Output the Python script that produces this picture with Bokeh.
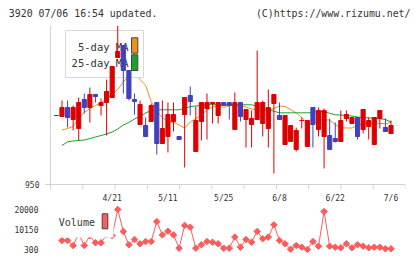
import math
from bokeh.plotting import figure
from bokeh.layouts import column
from bokeh.models import Range1d, FixedTicker, LinearAxis, Span, ColumnDataSource
from bokeh.core.properties import value
from bokeh.embed import file_html
from bokeh.resources import INLINE

NaN = float("nan")

# ---------------- data ----------------
opens = [1019, 1018, 1027, 1015, 1006, 1035, 1027, 1040, 1029, 1032,
         1037, 1077, 1089, 1064, 1035, 1010, 1009, 1013, 1032, 991,
         998, 1013, 998, 1020, 1039, 983, 1013, 1026, 1031, 1019,
         1032, 1032, 1005, 1032, 1015, 1010, 1015, 1011, 1006, 1031,
         1019, 990, 993, 985, 1014, 988, 1027, 1005, 998, 999,
         996, 993, 1016, 1011, 1017, 1005, 1008, 990, 1016, 1007,
         1001]
closes = [1019, 1027, 1017, 1027, 1032, 1027, 1040, 1038, 1032, 1043,
          1068, 1083, 1064, 1036, 1033, 1030, 998, 1029, 991, 1006,
          1020, 1020, 995, 1037, 1033, 1014, 1032, 1032, 1032, 1032,
          1029, 1029, 1032, 1018, 1025, 1016, 1032, 1032, 1027, 1040,
          1015, 1019, 1009, 1004, 1014, 1014, 1010, 1024, 1024, 985,
          993, 1014, 1020, 1017, 998, 1025, 1014, 1017, 1024, 1003,
          1009]
highs = [1019, 1034, 1034, 1029, 1037, 1041, 1047, 1040, 1036, 1055,
         1068, 1109, 1089, 1064, 1041, 1034, 1017, 1031, 1032, 1034,
         1032, 1032, 998, 1037, 1048, 1028, 1032, 1041, 1032, 1032,
         1032, 1032, 1042, 1032, 1025, 1024, 1084, 1034, 1045, 1040,
         1032, 1019, 1009, 1007, 1017, 1014, 1027, 1027, 1026, 1016,
         1012, 1024, 1024, 1017, 1017, 1025, 1017, 1017, 1024, 1016,
         1014]
lows = [1019, 1018, 1007, 1004, 994, 1021, 1012, 1032, 1019, 999,
        1037, 1077, 1041, 1034, 1020, 1010, 998, 1013, 980, 991,
        982, 1003, 995, 967, 1019, 983, 994, 995, 1011, 1011,
        1029, 1015, 1005, 1013, 987, 987, 1015, 998, 987, 961,
        1015, 990, 993, 983, 1006, 988, 987, 998, 966, 985,
        992, 993, 1013, 1011, 995, 1001, 995, 990, 1006, 1003,
        1001]
ma5 = [NaN, 1004.5, 1006, 1008, 1016.5, 1022, 1026, 1029, 1031.5, 1036,
       1040, 1045, 1052.5, 1059, 1061, 1055, 1049, 1033, 1023, 1017,
       1012.5, 1012.3, 1009.5, 1006.3, 1012.5, 1016, 1019.5, 1024.5, 1027.5, 1029,
       1027, 1029, 1029, 1029, 1027.3, 1025.7, 1024.5, 1024, 1024, 1026,
       1028.5, 1028, 1025, 1021.5, 1017, 1011.5, 1010, 1014.7, 1014.7, 1014.5,
       1010, 1007, 1006.5, 1006.5, 1009, 1011, 1011.3, 1011.3, 1011, 1010.7,
       1012.3]
ma25 = [NaN, 989, 992.7, 993.5, 994, 994.5, 996, 997.5, 999, 1000.5,
        1002.5, 1005.5, 1009.5, 1012, 1015.5, 1018.2, 1021.5, 1024, 1024.5, 1024.7,
        1024.7, 1024.7, 1024.7, 1026, 1028, 1028.5, 1029, 1029.5, 1030, 1029.7,
        1029.7, 1029.7, 1029.7, 1029.7, 1029.7, 1029.7, 1028.3, 1026.5, 1024.5, 1023.2,
        1021.7, 1021.7, 1021.7, 1021.7, 1021.7, 1021.7, 1022, 1023, 1023, 1021.2,
        1019.7, 1019.5, 1019, 1018.5, 1017.5, 1017, 1016.7, 1016.2, 1015.8, 1015,
        1012.5]
volume = [NaN, 4600, 4600, 2100, 8000, 2100, 7000, 3500, 3500, 7500,
          7000, 20000, 9100, 2500, 5100, 3000, 4100, 4100, 14000, 7400,
          9200, 7400, 800, 12100, 11200, 800, 2500, 4100, 3800, 3000,
          800, 800, 6300, 1300, 5100, 3800, 9100, 5500, 6300, 12400,
          4600, 3000, 300, 2100, 1300, 200, 4100, 1800, 19000, 1800,
          1300, 1000, 3000, 1000, 2500, 1800, 1000, 1300, 1300, 500,
          500]
date_pos = [10, 20, 30, 40, 50, 60]
date_labels = ["4/21", "5/11", "5/25", "6/8", "6/22", "7/6"]
price_ticks = [950]
volume_ticks = [300, 10150, 20000]
title_left = "3920 07/06 16:54 updated."
title_right = "(C)https://www.rizumu.net/"
legend_ma5 = "5-day MA"
legend_ma25 = "25-day MA"
legend_vol = "Volume"

# ---------------- styles ----------------
RED = "#dd0000"
BLUE = "#4040c0"
ORANGE = "#f0901a"
GREEN = "#1aa32a"
VOLC = "#ff5b5b"
AXC = "#d2d2d2"
TXT = "#333333"
MONO = "DejaVu Sans Mono"
W = 420

n = len(closes)
xs = list(range(n))
cols = [RED if c >= o else BLUE for o, c in zip(opens, closes)]
src = ColumnDataSource(dict(
    x=xs,
    top=[max(o, c) for o, c in zip(opens, closes)],
    bottom=[min(o, c) for o, c in zip(opens, closes)],
    high=highs, low=lows, color=cols, ma5=ma5, ma25=ma25, vol=volume))

xr = Range1d(-1.06, 62.6)


def bare(fig):
    fig.outline_line_color = None
    fig.background_fill_color = "white"
    fig.border_fill_color = "white"
    return fig


# ---------------- header (title texts) ----------------
h = bare(figure(width=W, height=25, x_range=Range1d(0, W), y_range=Range1d(0, 25),
                output_backend="svg", toolbar_location=None,
                x_axis_type=None, y_axis_type=None,
                min_border_left=0, min_border_right=0, min_border_top=0, min_border_bottom=0))
h.frame_align = False
h.text(x=[8.3], y=[12.3], text=[title_left], text_align="left", text_baseline="middle",
       text_font=value(MONO), text_font_size="9.9px", text_color=TXT)
h.text(x=[410], y=[12.3], text=[title_right], text_align="right", text_baseline="middle",
       text_font=value(MONO), text_font_size="9.9px", text_color=TXT)

# ---------------- price chart ----------------
p = bare(figure(width=W, height=167, x_range=xr, y_range=Range1d(945, 1109),
                output_backend="svg", toolbar_location=None,
                x_axis_type=None, y_axis_type=None,
                min_border_left=50, min_border_right=15, min_border_top=0, min_border_bottom=3))

yax = LinearAxis(ticker=FixedTicker(ticks=price_ticks))
yax.axis_line_color = AXC
yax.major_tick_line_color = AXC
yax.major_tick_out = 5
yax.major_tick_in = 0
yax.minor_tick_line_color = None
yax.major_label_standoff = 6
yax.major_label_text_font = MONO
yax.major_label_text_font_size = "8px"
yax.major_label_text_color = TXT
p.add_layout(yax, "left")

# horizontal axis line at the bottom price and its tick marks
base = price_ticks[0]
p.add_layout(Span(location=base, dimension="width", line_color=AXC, line_width=1))
step = (xr.end - xr.start) / 11
tick_x = [xr.start + k * step for k in range(12)]
p.segment(x0=tick_x, y0=[base] * 12, x1=tick_x, y1=[base - 5] * 12, color=AXC, line_width=1)

# moving averages (under the legend box)
p.line("x", "ma5", source=src, color=ORANGE, line_width=1, level="underlay")
p.line("x", "ma25", source=src, color=GREEN, line_width=1, level="underlay")

# legend box (candles are drawn on top of it)
p.quad(left=[1.63], right=[15.62], top=[1104], bottom=[1057], fill_color="white",
       line_color="#d8d8d8", line_width=1, level="underlay")
p.text(x=[12.93, 12.93], y=[1088, 1071.3], text=[legend_ma5, legend_ma25],
       text_align="right", text_baseline="middle", text_font=value(MONO),
       text_font_size="10.5px", text_color=TXT, level="underlay")
p.quad(left=[13.47, 13.47], right=[14.6, 14.6], top=[1096.7, 1079.7], bottom=[1081.3, 1064],
       fill_color=[ORANGE, GREEN], line_color="#444444", line_width=1, level="underlay")

# candles
p.segment(x0="x", y0="high", x1="x", y1="low", source=src, color="color", line_width=1)
p.vbar(x="x", width=0.74, top="top", bottom="bottom", source=src,
       fill_color="color", line_color="color", line_width=1)

# ---------------- volume chart (date labels sit at its top) ----------------
VOL_TOP = 28435
DATE_Y = 25557
v = bare(figure(width=W, height=67, x_range=xr, y_range=Range1d(-3322, VOL_TOP),
                output_backend="svg", toolbar_location=None,
                x_axis_type=None, y_axis_type=None,
                min_border_left=50, min_border_right=15, min_border_top=0, min_border_bottom=3))

vax = LinearAxis(ticker=FixedTicker(ticks=volume_ticks))
vax.axis_line_color = None
vax.major_tick_line_color = None
vax.minor_tick_line_color = None
vax.major_label_standoff = 6
vax.major_label_text_font = MONO
vax.major_label_text_font_size = "8px"
vax.major_label_text_color = TXT
v.add_layout(vax, "left")

v.text(x=date_pos, y=[DATE_Y] * len(date_pos), text=date_labels, text_align="center",
       text_baseline="middle", text_font=value(MONO), text_font_size="8px", text_color=TXT)

v.line("x", "vol", source=src, color=VOLC, line_width=1)
v.scatter("x", "vol", source=src, marker="square", angle=math.pi / 4, size=4.6,
          fill_color=VOLC, line_color=VOLC)

# volume legend (drawn over the line)
v.quad(left=[0.2], right=[10.24], top=[19007], bottom=[6105], fill_color="white", line_color=None)
v.text(x=[0.43], y=[13697], text=[legend_vol], text_align="left", text_baseline="middle",
       text_font=value(MONO), text_font_size="10px", text_color=TXT)
v.quad(left=[8.21], right=[9.22], top=[17866], bottom=[10422], fill_color=VOLC,
       line_color="#444444", line_width=1)

layout = column(h, p, v)
open("out.html", "w").write(file_html(layout, INLINE))
